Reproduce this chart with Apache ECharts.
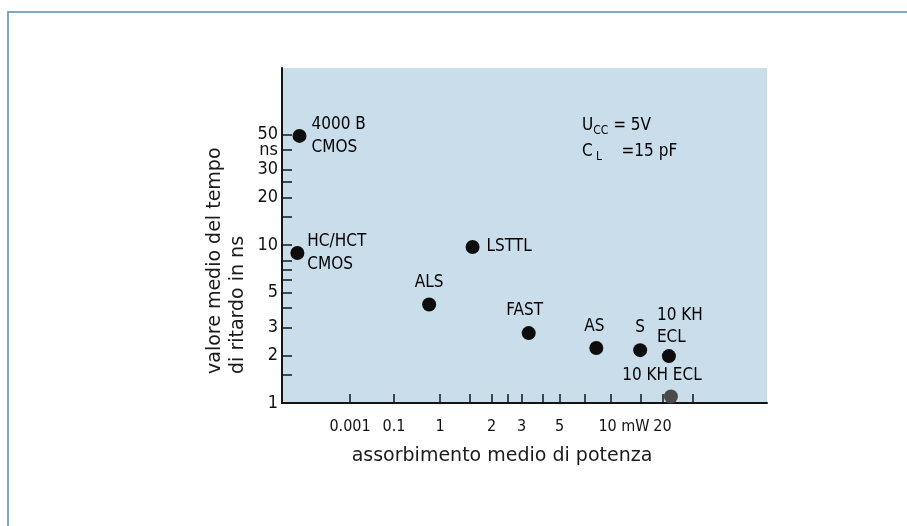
<!DOCTYPE html>
<html>
<head>
<meta charset="utf-8">
<style>
  html, body { margin: 0; padding: 0; background: #ffffff; }
  #chart { width: 907px; height: 526px; }
</style>
<script src="https://cdn.jsdelivr.net/npm/echarts@6/dist/echarts.min.js"></script>
</head>
<body>
<div id="chart"></div>
<script>
// ---- data ----
const families = ['4000 B\nCMOS', 'HC/HCT\nCMOS', 'LSTTL', 'ALS', 'FAST', 'AS', 'S', '10 KH\nECL', '10 KH ECL'];
const powerMW  = [0.000005, 0.000004, 1.55, 0.58, 3.3, 8.2, 14.8, 21.8, 22.4];
const delayNS  = [49, 8.9, 9.7, 4.2, 2.77, 2.23, 2.16, 1.98, 1.1];

const xTickValues  = [0.001, 0.1, 1, 1.5, 2, 2.5, 3, 4, 5, 7, 10, 15, 20, 30];
const xLabelValues = [0.001, 0.1, 1, 2, 3, 5, 10, 20];
const xLabelTexts  = ['0.001', '0.1', '1', '2', '3', '5', '10 mW', '20'];

const yTickValues  = [1, 1.5, 2, 3, 4, 5, 6, 7, 8, 10, 15, 20, 25, 30, 40, 50];
const yLabelValues = [1, 2, 3, 5, 10, 20, 30, 40, 50];
const yLabelTexts  = ['1', '2', '3', '5', '10', '20', '30', 'ns', '50'];

// ---- axis transforms (broken logarithmic power scale, log delay scale) ----
function powerPos(mw) {
  const l = Math.log10(mw);
  if (l >= 0) return l;
  if (l >= -1) return 0.269 * l;
  return -0.269 + 0.1285 * (l + 1);
}
function delayPos(ns) { return Math.log10(ns); }

function lookup(vals, texts, fn, v) {
  for (let i = 0; i < vals.length; i++) {
    if (Math.abs(fn(vals[i]) - v) < 1e-6) return texts[i];
  }
  return '';
}

// the unit label "ns" sits on its own overlaid axis so it is not hidden by the "50" label
const unitIdx = yLabelTexts.indexOf('ns');
const yMainLabels = yLabelValues.filter((v, i) => i !== unitIdx);
const yMainTicks  = yTickValues.filter(v => v !== yLabelValues[unitIdx]);
const yUnitValue  = yLabelValues[unitIdx];

const FONT = 'DejaVu Sans Condensed';
const labelBase = { show: true, color: '#000', fontFamily: FONT, fontSize: 17, lineHeight: 23, formatter: '{b}' };
const labelCfg = [
  { position: 'right', distance: 5 },
  { position: 'right', distance: 3 },
  { position: 'right', distance: 7 },
  { position: 'top', distance: 3 },
  { position: 'top', distance: 4, offset: [-4, 0] },
  { position: 'top', distance: 3, offset: [-2, 0] },
  { position: 'top', distance: 4 },
  { position: [-5, -45], align: 'left', verticalAlign: 'top', lineHeight: 22 },
  { position: 'top', distance: 2, offset: [-9, 0] }
];

const seriesData = powerMW.map((p, i) => {
  const item = {
    name: families[i],
    value: [powerPos(p), delayPos(delayNS[i])],
    label: Object.assign({}, labelBase, labelCfg[i])
  };
  if (i === 8) item.itemStyle = { color: '#4a4a4a' };
  return item;
});

const chart = echarts.init(document.getElementById('chart'), null, { renderer: 'canvas' });

const axisColor = '#141414';
const yLabelStyle = { margin: 4, color: '#111', fontFamily: FONT, fontSize: 18, showMinLabel: true, showMaxLabel: true };
const option = {
  animation: false,
  backgroundColor: '#ffffff',
  grid: { left: 282, right: 140, top: 68, bottom: 123, show: true, backgroundColor: '#c9ddeb', borderWidth: 0 },
  xAxis: {
    type: 'value',
    min: -0.924,
    max: 1.912,
    splitLine: { show: false },
    axisLine: { onZero: false, lineStyle: { color: axisColor, width: 2 } },
    axisTick: { inside: true, length: 9, customValues: xTickValues.map(powerPos), lineStyle: { color: axisColor, width: 1.5 } },
    axisLabel: {
      customValues: xLabelValues.map(powerPos),
      showMinLabel: true,
      showMaxLabel: true,
      margin: 16,
      color: '#111',
      fontFamily: FONT,
      fontSize: 16,
      formatter: function (v) {
        const t = lookup(xLabelValues, xLabelTexts, powerPos, v);
        return t === '10 mW' ? '{pad|}10 mW' : t;
      },
      rich: { pad: { width: 26 } }
    }
  },
  yAxis: [{
    type: 'value',
    position: 'left',
    min: 0,
    max: 2.12,
    splitLine: { show: false },
    axisLine: { onZero: false, lineStyle: { color: axisColor, width: 2 } },
    axisTick: { inside: true, length: 10, customValues: yMainTicks.map(delayPos), lineStyle: { color: axisColor, width: 1.5 } },
    axisLabel: Object.assign({}, yLabelStyle, {
      customValues: yMainLabels.map(delayPos),
      formatter: function (v) { return lookup(yLabelValues, yLabelTexts, delayPos, v); }
    })
  }, {
    type: 'value',
    position: 'left',
    offset: 0,
    min: 0,
    max: 2.12,
    splitLine: { show: false },
    axisLine: { show: false, onZero: false },
    axisTick: { inside: true, length: 10, customValues: [delayPos(yUnitValue)], lineStyle: { color: axisColor, width: 1.5 } },
    axisLabel: Object.assign({}, yLabelStyle, {
      customValues: [delayPos(yUnitValue)],
      formatter: function (v) { return lookup(yLabelValues, yLabelTexts, delayPos, v); }
    })
  }],
  series: [{
    type: 'scatter',
    symbol: 'circle',
    symbolSize: 14,
    itemStyle: { color: '#0d0d0d', opacity: 1 },
    data: seriesData,
    z: 3
  }],
  graphic: [
    { type: 'line', shape: { x1: 7, y1: 12, x2: 907, y2: 12 }, style: { stroke: '#7fa6c9', lineWidth: 2 } },
    { type: 'line', shape: { x1: 8, y1: 11, x2: 8, y2: 526 }, style: { stroke: '#7fa6c9', lineWidth: 2 } },
    { type: 'text', x: 215, y: 374, rotation: Math.PI / 2,
      style: { text: 'valore medio del tempo', fill: '#1a1a1a', fontFamily: 'DejaVu Sans', fontSize: 19, align: 'left', verticalAlign: 'middle' } },
    { type: 'text', x: 238, y: 374, rotation: Math.PI / 2,
      style: { text: 'di ritardo in ns', fill: '#1a1a1a', fontFamily: 'DejaVu Sans', fontSize: 19, align: 'left', verticalAlign: 'middle' } },
    { type: 'text', x: 502, y: 456,
      style: { text: 'assorbimento medio di potenza', fill: '#1a1a1a', fontFamily: 'DejaVu Sans', fontSize: 19, align: 'center', verticalAlign: 'middle' } },
    { type: 'text', x: 582, y: 126, z: 10,
      style: {
        text: '{m|U}{s|CC}{m| = 5V}',
        align: 'left', verticalAlign: 'middle',
        rich: {
          m: { fontFamily: FONT, fontSize: 17, lineHeight: 22, fill: '#000', verticalAlign: 'middle' },
          s: { fontFamily: FONT, fontSize: 12, lineHeight: 22, fill: '#000', verticalAlign: 'bottom' }
        }
      } },
    { type: 'text', x: 582, y: 152, z: 10,
      style: {
        text: '{m|C}{s| L}{m|    =15 pF}',
        align: 'left', verticalAlign: 'middle',
        rich: {
          m: { fontFamily: FONT, fontSize: 17, lineHeight: 22, fill: '#000', verticalAlign: 'middle' },
          s: { fontFamily: FONT, fontSize: 12, lineHeight: 22, fill: '#000', verticalAlign: 'bottom' }
        }
      } }
  ]
};
chart.setOption(option);
</script>
</body>
</html>
